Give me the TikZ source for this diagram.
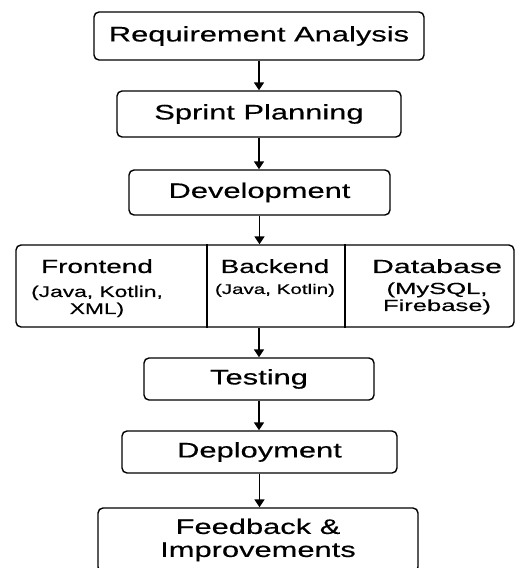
\documentclass[tikz,border=0pt]{standalone}
\usepackage{fontspec}
\setmainfont{Liberation Sans}[FakeStretch=1.47,FakeBold=0.4]
\usetikzlibrary{arrows.meta}
\tikzset{
    stage-box/.style = {draw, rectangle, rounded corners=5pt, line width=1.4pt, inner sep=0pt, align=center, font=\fontsize{21}{23}\selectfont},
    flow-arrow/.style = {-{Triangle[length=8pt,width=10pt]}, line width=1.7pt},
    cell-text/.style = {inner sep=0pt, anchor=north, align=center},
}
\newcommand{\celltitle}[1]{{\fontsize{19}{21}\selectfont #1}}

\begin{document}
\begin{tikzpicture}[x=1pt,y=-1pt]
\useasboundingbox (0,0) rectangle (516,568);
\node[stage-box, minimum width=330, minimum height=48] (req) at (259,36) {Requirement Analysis};
\node[stage-box, minimum width=284, minimum height=46] (sprint) at (259,114) {Sprint Planning};
\node[stage-box, minimum width=261, minimum height=45] (dev) at (259.5,192.5) {Development};
\node[stage-box, minimum width=498, minimum height=82] (row) at (265,286) {};
\node[cell-text, font=\fontsize{15.5}{17}\selectfont] (front) at (97,259) {\celltitle{Frontend}\\[7pt](Java, Kotlin,\\XML)};
\node[cell-text, font=\fontsize{14}{16}\selectfont] (back) at (275,259) {\celltitle{Backend}\\[5pt](Java, Kotlin)};
\node[cell-text, font=\fontsize{16}{17}\selectfont\addfontfeature{FakeStretch=1.6}] (data) at (437,259) {\celltitle{Database}\\[4pt](MySQL,\\Firebase)};
\coordinate (div1) at (207,286);
\coordinate (div2) at (345,286);
\draw[line width=1.4pt] (div1 |- row.north) -- (div1 |- row.south);
\draw[line width=1.4pt] (div2 |- row.north) -- (div2 |- row.south);
\node[stage-box, minimum width=230, minimum height=42] (test) at (259,379) {Testing};
\node[stage-box, minimum width=275, minimum height=42] (deploy) at (259.5,452) {Deployment};
\node[stage-box, minimum width=320, minimum height=64] (feedback) at (258,540) {Feedback \&\\Improvements};
% arrows between the stages
\draw[flow-arrow] (req.south) -- (req.south |- sprint.north);
\draw[flow-arrow] (sprint.south) -- (sprint.south |- dev.north);
\draw[flow-arrow] (dev.south) -- (dev.south |- row.north);
\draw[flow-arrow] (test.north |- row.south) -- (test.north);
\draw[flow-arrow] (test.south) -- (test.south |- deploy.north);
\draw[flow-arrow] (deploy.south) -- (deploy.south |- feedback.north);
\end{tikzpicture}
\end{document}
